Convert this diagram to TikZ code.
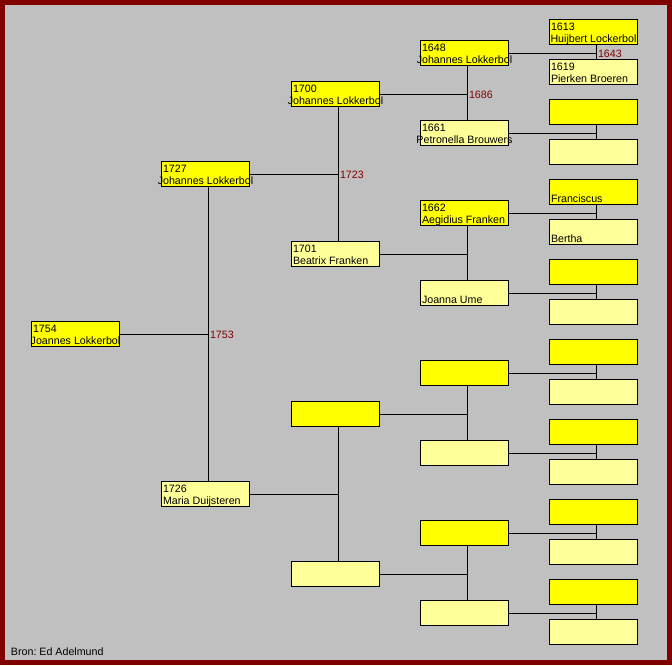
\documentclass[tikz,border=0pt]{standalone}
\usepackage{fontspec}
\setmainfont{Liberation Sans}
\definecolor{maleY}{HTML}{FFFF00}
\definecolor{femY}{HTML}{FFFF99}
\definecolor{bgGray}{HTML}{C0C0C0}
\definecolor{frameRed}{HTML}{800000}
\definecolor{lblRed}{HTML}{800000}
\newcommand\fitbox[1]{\hbox to 63.75pt{\hskip 0pt minus 1fil\relax #1\hskip 0pt plus 1fil minus 1fil}}
% #1 name, #2 left, #3 top, #4 style, #5 year, #6 person name
\newcommand\person[6]{%
  \node[pbox,#4] (#1) at (#2+44.5,#3+13) {};
  \node[ptext] (#1y) at (#2+2,#3+11) {#5};
  \node[ptext] (#1n) at (#2+2,#3+23) {\fitbox{#6}};
}
\newcommand\blankperson[4]{%
  \node[pbox,#4] (#1) at (#2+44.5,#3+13) {};
}
% #1 father, #2 mother, #3 child
\newcommand\couple[3]{%
  \coordinate (#3j) at ([xshift=1.875pt]#1.south);
  \coordinate (#3k) at (#3.east -| #3j);
  \draw[conn] (#3j) -- (#3j |- #2.north);
  \draw[conn] (#3.east) -- (#3k);
}
\newcommand\marriage[2]{%
  \node[yearlbl] (#1m) at ([shift={(2,4)}]#1k) {#2};
}
\begin{document}
\begin{tikzpicture}[x=0.75pt,y=-0.75pt,
  pbox/.style={draw=black,line width=0.75pt,minimum width=66pt,minimum height=18.75pt,inner sep=0pt,outer sep=0pt},
  male/.style={fill=maleY},
  fem/.style={fill=femY},
  ptext/.style={anchor=base west,inner sep=0pt,outer sep=0pt,font=\fontsize{8pt}{9pt}\selectfont,text=black},
  yearlbl/.style={anchor=base west,inner sep=0pt,outer sep=0pt,font=\fontsize{8pt}{9pt}\selectfont,text=lblRed},
  conn/.style={draw=black,line width=0.75pt}]
\useasboundingbox (0,0) rectangle (672,665);
\fill[frameRed] (0,0) rectangle (672,665);
\fill[bgGray] (5,5) rectangle (667,660);
% generation 1
\person{p1}{31}{321}{male}{1754}{Joannes Lokkerbol}
% generation 2
\person{p2}{161}{161}{male}{1727}{Johannes Lokkerbol}
\person{p3}{161}{481}{fem}{1726}{Maria Duijsteren}
% generation 3
\person{p4}{291}{81}{male}{1700}{Johannes Lokkerbol}
\person{p5}{291}{241}{fem}{1701}{Beatrix Franken}
\blankperson{p6}{291}{401}{male}
\blankperson{p7}{291}{561}{fem}
% generation 4
\person{p8}{420}{40}{male}{1648}{Johannes Lokkerbol}
\person{p9}{420}{120}{fem}{1661}{Petronella Brouwers}
\person{p10}{420}{200}{male}{1662}{Aegidius Franken}
\person{p11}{420}{280}{fem}{}{Joanna Ume}
\blankperson{p12}{420}{360}{male}
\blankperson{p13}{420}{440}{fem}
\blankperson{p14}{420}{520}{male}
\blankperson{p15}{420}{600}{fem}
% generation 5
\person{p16}{549}{19}{male}{1613}{Huijbert Lockerbol}
\person{p17}{549}{59}{fem}{1619}{Pierken Broeren}
\blankperson{p18}{549}{99}{male}
\blankperson{p19}{549}{139}{fem}
\person{p20}{549}{179}{male}{}{Franciscus}
\person{p21}{549}{219}{fem}{}{Bertha}
\foreach \i/\t in {22/259,24/339,26/419,28/499,30/579}{
  \blankperson{p\i}{549}{\t}{male}
}
\foreach \i/\t in {23/299,25/379,27/459,29/539,31/619}{
  \blankperson{p\i}{549}{\t}{fem}
}
% connectors
\couple{p2}{p3}{p1}
\couple{p4}{p5}{p2}
\couple{p6}{p7}{p3}
\couple{p8}{p9}{p4}
\couple{p10}{p11}{p5}
\couple{p12}{p13}{p6}
\couple{p14}{p15}{p7}
\couple{p16}{p17}{p8}
\couple{p18}{p19}{p9}
\couple{p20}{p21}{p10}
\couple{p22}{p23}{p11}
\couple{p24}{p25}{p12}
\couple{p26}{p27}{p13}
\couple{p28}{p29}{p14}
\couple{p30}{p31}{p15}
% marriage years
\marriage{p1}{1753}
\marriage{p2}{1723}
\marriage{p4}{1686}
\marriage{p8}{1643}
% source
\node[ptext] (source) at (11,655) {Bron:\ Ed Adelmund};
\end{tikzpicture}
\end{document}
